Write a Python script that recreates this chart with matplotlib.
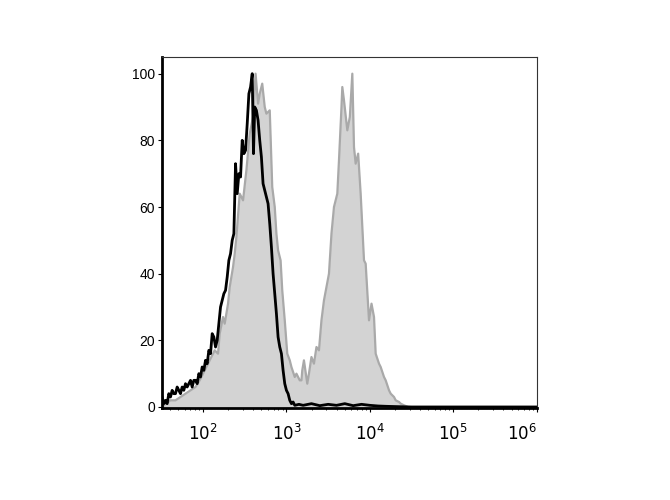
import numpy as np
import matplotlib.pyplot as plt

plt.rcParams['font.family'] = ['Liberation Sans', 'DejaVu Sans']

# --- histogram data (log10 channel, % of max) --- #
black_logx = [1.51, 1.53, 1.55, 1.57, 1.59, 1.61, 1.63, 1.65, 1.67, 1.69, 1.71, 1.73, 1.75, 1.77,
              1.79, 1.81, 1.83, 1.85, 1.87, 1.89, 1.91, 1.93, 1.95, 1.97, 1.99, 2.01, 2.03, 2.05,
              2.07, 2.09, 2.11, 2.13, 2.15, 2.17, 2.19, 2.21, 2.23, 2.25, 2.27, 2.29, 2.31, 2.33,
              2.35, 2.37, 2.39, 2.41, 2.43, 2.45, 2.47, 2.49, 2.51, 2.53, 2.55, 2.57, 2.59, 2.605,
              2.62, 2.64, 2.66, 2.68, 2.70, 2.72, 2.74, 2.76, 2.78, 2.80, 2.82, 2.84, 2.86, 2.88,
              2.90, 2.92, 2.94, 2.96, 2.98, 3.00, 3.02, 3.04, 3.06, 3.08, 3.10, 3.15, 3.20, 3.30,
              3.40, 3.50, 3.60, 3.70, 3.80, 3.90, 4.00, 4.10, 4.20, 4.50, 6.00]
black_counts = [3, 1, 2, 1, 4, 3, 5, 4, 4, 6, 5, 4, 6, 5,
                7, 6, 7, 8, 6, 8, 8, 7, 10, 9, 12, 11, 14, 13,
                17, 16, 22, 21, 18, 20, 25, 30, 32, 34, 35, 39, 44, 46,
                50, 52, 73, 64, 70, 69, 80, 76, 77, 85, 94, 96, 100, 76,
                90, 89, 86, 80, 75, 67, 65, 63, 61, 55, 48, 40, 34, 28,
                21, 18, 16, 11, 7, 5, 4, 2, 1, 1.5, 0.5, 0.8, 0.5, 1,
                0.4, 0.8, 0.5, 1, 0.4, 0.8, 0.5, 0.3, 0.2, 0, 0]

gray_logx = [1.51, 1.55, 1.61, 1.67, 1.73, 1.79, 1.85, 1.91, 1.96, 2.02, 2.08, 2.14, 2.18, 2.20,
             2.24, 2.26, 2.30, 2.32, 2.36, 2.38, 2.40, 2.44, 2.48, 2.52, 2.56, 2.60, 2.63, 2.66,
             2.68, 2.71, 2.74, 2.76, 2.80, 2.83, 2.86, 2.88, 2.90, 2.93, 2.95, 2.98, 3.01, 3.04,
             3.06, 3.10, 3.12, 3.16, 3.18, 3.19, 3.21, 3.25, 3.27, 3.30, 3.33, 3.36, 3.39, 3.42,
             3.45, 3.48, 3.51, 3.54, 3.57, 3.61, 3.63, 3.66, 3.67, 3.69, 3.73, 3.76, 3.79, 3.81,
             3.83, 3.86, 3.89, 3.93, 3.95, 3.99, 4.02, 4.05, 4.07, 4.11, 4.13, 4.17, 4.19, 4.23,
             4.25, 4.29, 4.31, 4.35, 4.37, 4.41, 4.46, 6.00]
gray_counts = [0, 1, 2, 2, 3, 4, 5, 6, 8, 11, 14, 17, 16, 22,
               27, 25, 31, 36, 42, 46, 51, 64, 62, 71, 82, 87, 100, 91,
               94, 97, 90, 88, 89, 66, 60, 52, 47, 44, 35, 26, 16, 14,
               12, 9, 10, 8, 8, 11, 14, 7, 10, 15, 13, 18, 17, 26,
               32, 36, 40, 52, 60, 64, 74, 90, 96, 92, 83, 87, 100, 78,
               73, 76, 64, 44, 43, 26, 31, 27, 16, 13, 12, 9, 8, 5,
               4, 3, 2, 1.5, 1, 0.5, 0, 0]

x_ticks = [1e2, 1e3, 1e4, 1e5, 1e6]
x_ticklabels = ['$10^{2}$', '$10^{3}$', '$10^{4}$', '$10^{5}$', '$10^{6}$']
y_ticks = [0, 20, 40, 60, 80, 100]

gray_x = 10 ** np.array(gray_logx)
black_x = 10 ** np.array(black_logx)

fig = plt.figure(figsize=(6.7, 5), dpi=100)
ax = fig.add_axes([0.242, 0.184, 0.559, 0.702])

ax.fill_between(gray_x, 0, gray_counts, color='#d3d3d3', linewidth=0, zorder=1)
ax.plot(gray_x, gray_counts, color='#a9a9a9', linewidth=1.6, zorder=2)
ax.plot(black_x, black_counts, color='black', linewidth=2, zorder=3)

ax.set_xscale('log')
ax.set_xlim(10 ** 1.51, 1e6)
ax.set_ylim(-0.3, 105)
ax.set_xticks(x_ticks)
ax.set_xticklabels(x_ticklabels, fontsize=12)
ax.set_yticks(y_ticks)
ax.tick_params(axis='y', labelsize=10, length=3, width=0.8, pad=2)
ax.tick_params(axis='x', length=3, width=0.8, pad=8)
ax.tick_params(axis='x', which='minor', length=1.5, width=0.6)
# last label sits inside the right edge like the reference
ax.get_xticklabels()[-1].set_horizontalalignment('right')

ax.spines['left'].set_linewidth(2)
ax.spines['bottom'].set_linewidth(2)
ax.spines['top'].set_linewidth(0.8)
ax.spines['right'].set_linewidth(0.8)
ax.spines['top'].set_color('#333333')
ax.spines['right'].set_color('#333333')

fig.savefig('out.png', dpi=100)
